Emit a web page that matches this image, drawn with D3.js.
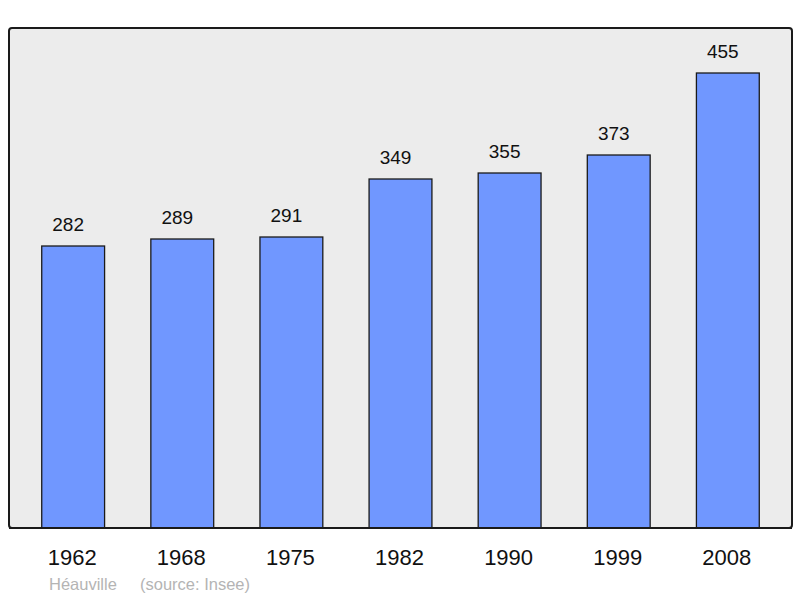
<!DOCTYPE html>
<html>
<head>
<meta charset="utf-8">
<script src="https://cdn.jsdelivr.net/npm/d3@7"></script>
<style>
  body { margin: 0; background: #fff; }
  text { font-family: "Liberation Sans", Arial, sans-serif; }
</style>
</head>
<body>
<svg id="chart" width="800" height="598"></svg>
<script>
// population by census year
const years = ["1962", "1968", "1975", "1982", "1990", "1999", "2008"];
const population = [282, 289, 291, 349, 355, 373, 455];
const commune = "Héauville";
const source = "(source: Insee)";

const svg = d3.select("#chart");
const panelLeft = 9, panelRight = 792, panelTop = 28, panelBottom = 528;

// panel
svg.append("rect")
    .attr("x", panelLeft)
    .attr("y", panelTop)
    .attr("width", panelRight - panelLeft)
    .attr("height", panelBottom - panelTop)
    .attr("rx", 3)
    .attr("fill", "#ececec")
    .attr("stroke", "#1a1a1a")
    .attr("stroke-width", 2);

let xScale = d3.scaleBand()
    .domain(years)
    .range([panelLeft, panelRight])
    .paddingInner(0.424)
    .paddingOuter(0.3);

let yScale = d3.scaleLinear()
    .domain([0, 500])
    .range([panelBottom, panelTop]);

let data = years.map((y, i) => ({ year: y, value: population[i] }));

svg.append("g")
    .selectAll("rect")
    .data(data)
    .join("rect")
    .attr("x", d => xScale(d.year))
    .attr("y", d => yScale(d.value))
    .attr("width", xScale.bandwidth())
    .attr("height", d => yScale(0) - yScale(d.value))
    .attr("fill", "#7097ff")
    .attr("stroke", "#1a1a1a")
    .attr("stroke-width", 1.3);

// redraw bottom edge of the panel over the bars
svg.append("line")
    .attr("x1", panelLeft).attr("x2", panelRight)
    .attr("y1", panelBottom).attr("y2", panelBottom)
    .attr("stroke", "#1a1a1a")
    .attr("stroke-width", 2);

// value labels sit a little left of the bar centre
svg.append("g")
    .selectAll("text")
    .data(data)
    .join("text")
    .attr("x", d => xScale(d.year) + xScale.bandwidth() / 2 - 5)
    .attr("y", d => yScale(d.value) - 15)
    .attr("text-anchor", "middle")
    .attr("font-size", 19)
    .attr("fill", "#111")
    .text(d => d.value);

// year labels
svg.append("g")
    .selectAll("text")
    .data(years)
    .join("text")
    .attr("x", d => xScale(d) + xScale.bandwidth() / 2 - 1)
    .attr("y", 565)
    .attr("text-anchor", "middle")
    .attr("font-size", 22)
    .attr("fill", "#111")
    .text(d => d);

svg.append("text")
    .attr("x", 49)
    .attr("y", 590)
    .attr("font-size", 16.5)
    .attr("fill", "#b4b4b4")
    .text(commune);

svg.append("text")
    .attr("x", 140)
    .attr("y", 590)
    .attr("font-size", 16.5)
    .attr("fill", "#b4b4b4")
    .text(source);
</script>
</body>
</html>
